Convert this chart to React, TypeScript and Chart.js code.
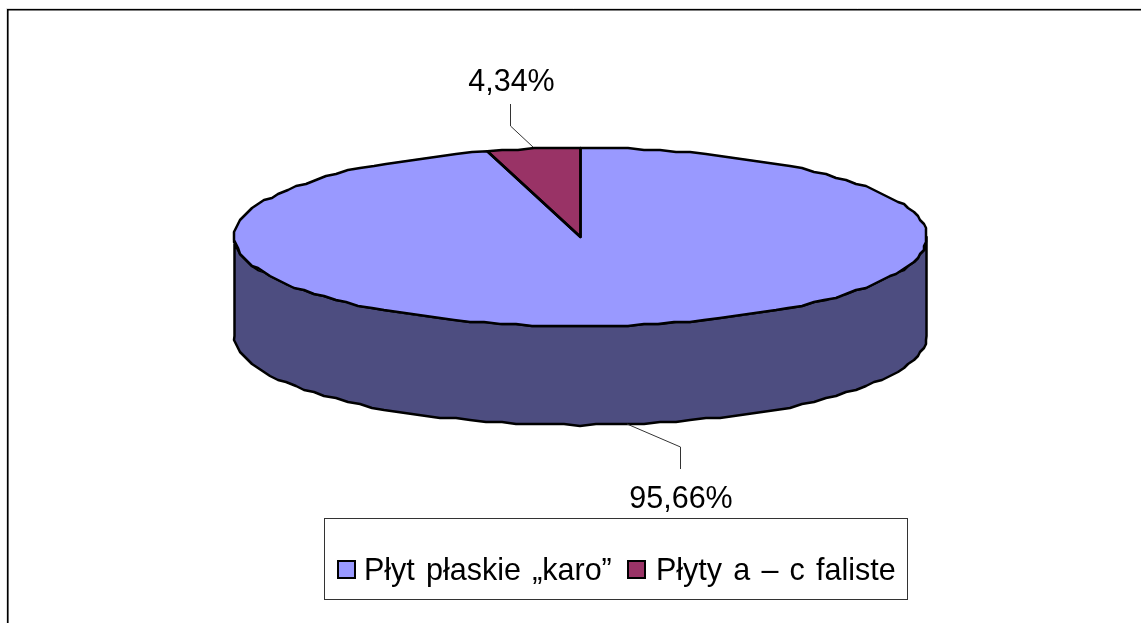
import React, { useEffect, useRef } from "react";
import { Chart, registerables } from "chart.js";

Chart.register(...registerables);

const categories = ["Płyt płaskie „karo”", "Płyty a – c faliste"];
const shares = [95.66, 4.34];
const topColors = ["#9999FF", "#993366"];
const wallColors = ["#4D4D80", "#4D1A33"];

const FONT = '30.5px "Liberation Sans", Arial, sans-serif';
const RX = 346;
const RY = 89;
const DEPTH = 99;
const GRID = 2;

// the reference's outline is a coarse, stepped trace of the ellipse
function trace(ctx: any, x: number, y: number, a0: number, a1: number) {
  const n = Math.max(2, Math.ceil((Math.abs(a1 - a0) * RX) / 16));
  for (let k = 0; k <= n; k++) {
    const t = a0 + ((a1 - a0) * k) / n;
    const px = x + RX * Math.cos(t);
    const py = y + RY * Math.sin(t);
    const sx = k === 0 || k === n ? px : Math.round(px / GRID) * GRID;
    const sy = k === 0 || k === n ? py : Math.round(py / GRID) * GRID;
    ctx.lineTo(sx, sy);
  }
}

const pie3d = {
  id: "pie3d",
  beforeDatasetsDraw(chart: any) {
    const ctx = chart.ctx;
    const arcs = chart.getDatasetMeta(0).data;
    const { x, y, outerRadius } = arcs[0];
    ctx.save();
    ctx.lineWidth = 2.5;
    ctx.strokeStyle = "#000";
    ctx.lineJoin = "round";
    arcs.forEach((a: any, i: number) => {
      const lo = Math.max(a.startAngle, 0);
      const hi = Math.min(a.endAngle, Math.PI);
      if (lo >= hi) return;
      ctx.beginPath();
      trace(ctx, x, y, lo, hi);
      trace(ctx, x, y + DEPTH, hi, lo);
      ctx.closePath();
      ctx.fillStyle = wallColors[i];
      ctx.fill();
      ctx.stroke();
    });
    ctx.restore();
    ctx.save();
    ctx.translate(x, y);
    ctx.scale(RX / outerRadius, RY / outerRadius);
    ctx.translate(-x, -y);
  },
  afterDatasetsDraw(chart: any) {
    const ctx = chart.ctx;
    ctx.restore();
    const arcs = chart.getDatasetMeta(0).data;
    const { x, y } = arcs[0];
    ctx.save();
    ctx.lineWidth = 2.5;
    ctx.strokeStyle = "#000";
    ctx.lineJoin = "round";
    arcs.forEach((a: any) => {
      ctx.beginPath();
      ctx.moveTo(x, y);
      trace(ctx, x, y, a.startAngle, a.endAngle);
      ctx.closePath();
      ctx.stroke();
    });
    ctx.restore();
  },
  afterDraw(chart: any) {
    const ctx = chart.ctx;
    const w = chart.width;
    const h = chart.height;
    const pct = (v: number) => v.toFixed(2).replace(".", ",") + "%";

    ctx.save();
    // outer frame
    ctx.strokeStyle = "#dddddd";
    ctx.lineWidth = 1;
    ctx.beginPath();
    ctx.moveTo(6.5, h);
    ctx.lineTo(6.5, 8.5);
    ctx.lineTo(w, 8.5);
    ctx.stroke();
    ctx.strokeStyle = "#000";
    ctx.lineWidth = 1.6;
    ctx.beginPath();
    ctx.moveTo(7.8, h);
    ctx.lineTo(7.8, 9.8);
    ctx.lineTo(w, 9.8);
    ctx.stroke();

    // leader lines
    ctx.strokeStyle = "#333";
    ctx.lineWidth = 1;
    ctx.beginPath();
    ctx.moveTo(510.5, 104);
    ctx.lineTo(510.5, 126);
    ctx.lineTo(533, 147);
    ctx.moveTo(627, 424);
    ctx.lineTo(680.5, 447);
    ctx.lineTo(680.5, 469);
    ctx.stroke();

    // data labels
    ctx.font = FONT;
    ctx.fillStyle = "#000";
    ctx.textBaseline = "alphabetic";
    ctx.textAlign = "center";
    ctx.fillText(pct(shares[1]), 511.5, 91);
    ctx.fillText(pct(shares[0]), 681, 508);

    // legend
    ctx.fillStyle = "#fff";
    ctx.fillRect(324.5, 518.5, 583, 81);
    ctx.strokeStyle = "#333";
    ctx.lineWidth = 1;
    ctx.strokeRect(324.5, 518.5, 583, 81);
    const boxX = [338, 628];
    const textX = [364, 656];
    ctx.wordSpacing = "2.7px";
    categories.forEach((c, i) => {
      ctx.fillStyle = topColors[i];
      ctx.fillRect(boxX[i], 561, 17, 17);
      ctx.strokeStyle = "#000";
      ctx.lineWidth = 2;
      ctx.strokeRect(boxX[i], 561, 17, 17);
      ctx.fillStyle = "#000";
      ctx.textAlign = "left";
      ctx.fillText(c, textX[i], 580);
    });
    ctx.restore();
  },
};

export default function App() {
  const ref = useRef<HTMLCanvasElement>(null);
  useEffect(() => {
    const chart = new Chart(ref.current!, {
      type: "pie",
      data: {
        labels: categories,
        datasets: [
          {
            data: shares,
            backgroundColor: topColors,
            borderWidth: 0,
            clip: false,
          } as any,
        ],
      },
      options: {
        responsive: false,
        animation: false,
        layout: { padding: { left: 20, bottom: 149, top: 0, right: 0 } },
        plugins: { legend: { display: false }, tooltip: { enabled: false } },
      },
      plugins: [pie3d],
    });
    return () => chart.destroy();
  }, []);
  return (
    <canvas
      ref={ref}
      width={1141}
      height={623}
      style={{ position: "fixed", left: 0, top: 0, width: 1141, height: 623, background: "#fff" }}
    />
  );
}
